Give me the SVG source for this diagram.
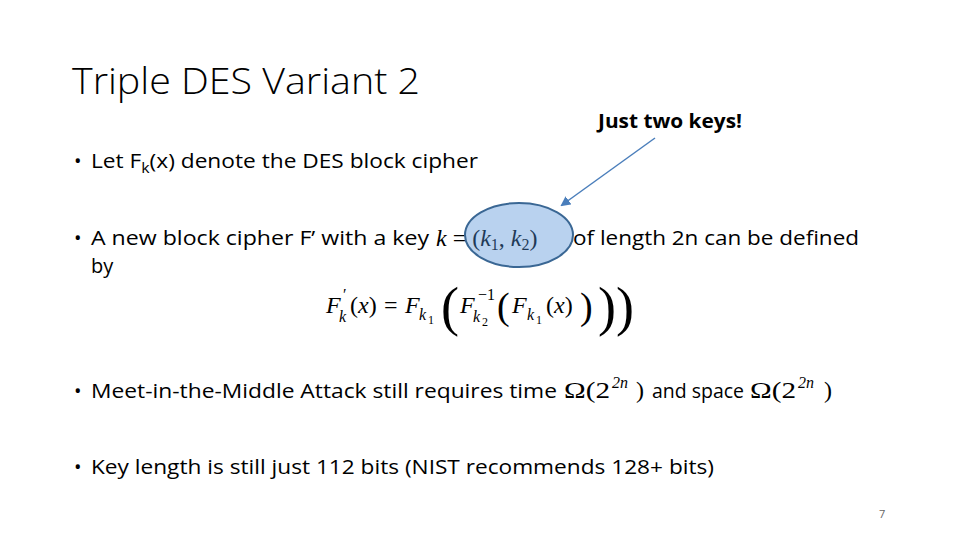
<svg xmlns="http://www.w3.org/2000/svg" width="960" height="540" viewBox="0 0 960 540">
<defs>
<marker id="ah" markerWidth="10" markerHeight="10" refX="8" refY="5" orient="auto" markerUnits="userSpaceOnUse"><path d="M0,0 L10,5 L0,10 z" fill="#4a7ebb"/></marker>
</defs>
<style>
.b{font-family:"Open Sans","Liberation Sans",sans-serif;font-size:20px;fill:#000}
.m{font-family:"Liberation Serif","DejaVu Serif",serif;font-size:24px;fill:#000}
.i{font-style:italic}
.s{font-size:14px}
.sub{font-size:16px}
.ss{font-size:12px}
</style>
<rect width="960" height="540" fill="#fff"/>
<text x="72" y="94" font-family="Open Sans, Liberation Sans, sans-serif" font-size="36" font-weight="300" textLength="348" lengthAdjust="spacingAndGlyphs">Triple DES Variant 2</text>
<g id="label"><text x="598" y="128" class="b" font-weight="bold" font-size="17" textLength="144" lengthAdjust="spacingAndGlyphs">Just two keys!</text></g>
<g class="b">
<text x="74" y="168">•</text>
<text x="91" y="168" textLength="387" lengthAdjust="spacingAndGlyphs">Let F<tspan class="s" dy="5">k</tspan><tspan dy="-5">(x) denote the DES block cipher</tspan></text>
<text x="74" y="245">•</text>
<text x="91" y="245" textLength="338" lengthAdjust="spacingAndGlyphs">A new block cipher F’ with a key</text>
<text x="573" y="245" textLength="286" lengthAdjust="spacingAndGlyphs">of length 2n can be defined</text>
<text x="91" y="273">by</text>
<text x="74" y="398">•</text>
<text x="91" y="398" textLength="466" lengthAdjust="spacingAndGlyphs">Meet-in-the-Middle Attack still requires time</text>
<text x="652" y="398" textLength="92" lengthAdjust="spacingAndGlyphs">and space</text>
<text x="74" y="474">•</text>
<text x="91" y="474" textLength="623" lengthAdjust="spacingAndGlyphs">Key length is still just 112 bits (NIST recommends 128+ bits)</text>
</g>
<g class="m">
<text x="436" y="246"><tspan class="i">k</tspan> = (<tspan class="i">k</tspan><tspan class="sub" dy="4">1</tspan><tspan dy="-4">, </tspan><tspan class="i">k</tspan><tspan class="sub" dy="4">2</tspan><tspan dy="-4">)</tspan></text>
<text x="326" y="313" class="i">F</text>
<text x="343" y="300" class="sub">′</text>
<text x="339" y="322" class="sub i">k</text>
<text x="350" y="313">(<tspan class="i">x</tspan>)</text>
<text x="384" y="313">=</text>
<text x="405" y="313" class="i">F</text>
<text x="419" y="320" class="sub i">k</text>
<text x="428" y="324" class="ss">1</text>
<text x="441" y="325" font-size="54">(</text>
<text x="460" y="313" class="i">F</text>
<text x="478" y="300" class="sub">−1</text>
<text x="473" y="322" class="sub i">k</text>
<text x="482" y="326" class="ss">2</text>
<text x="497" y="319" font-size="38">(</text>
<text x="512" y="313" class="i">F</text>
<text x="527" y="320" class="sub i">k</text>
<text x="536" y="324" class="ss">1</text>
<text x="546" y="313">(<tspan class="i">x</tspan>)</text>
<text x="580" y="319" font-size="38">)</text>
<text x="598" y="325" font-size="54">)</text>
<text x="616" y="325" font-size="54">)</text>
<text x="564" y="398" textLength="46" lengthAdjust="spacingAndGlyphs">Ω(2</text>
<text x="612" y="388" class="sub i">2n</text>
<text x="636" y="398">)</text>
<text x="750" y="398" textLength="46" lengthAdjust="spacingAndGlyphs">Ω(2</text>
<text x="798" y="388" class="sub i">2n</text>
<text x="824" y="398">)</text>
</g>
<g id="highlight"><ellipse cx="519" cy="235" rx="54" ry="32" fill="#4f8fd6" fill-opacity="0.4" stroke="#3a6794" stroke-width="2"/></g>
<g id="connectors"><line x1="655" y1="138" x2="562" y2="205" stroke="#4a7ebb" stroke-width="1.5" marker-end="url(#ah)"/></g>
<text x="879" y="518" font-family="Open Sans, Liberation Sans, sans-serif" font-size="11" fill="#666">7</text>
</svg>
